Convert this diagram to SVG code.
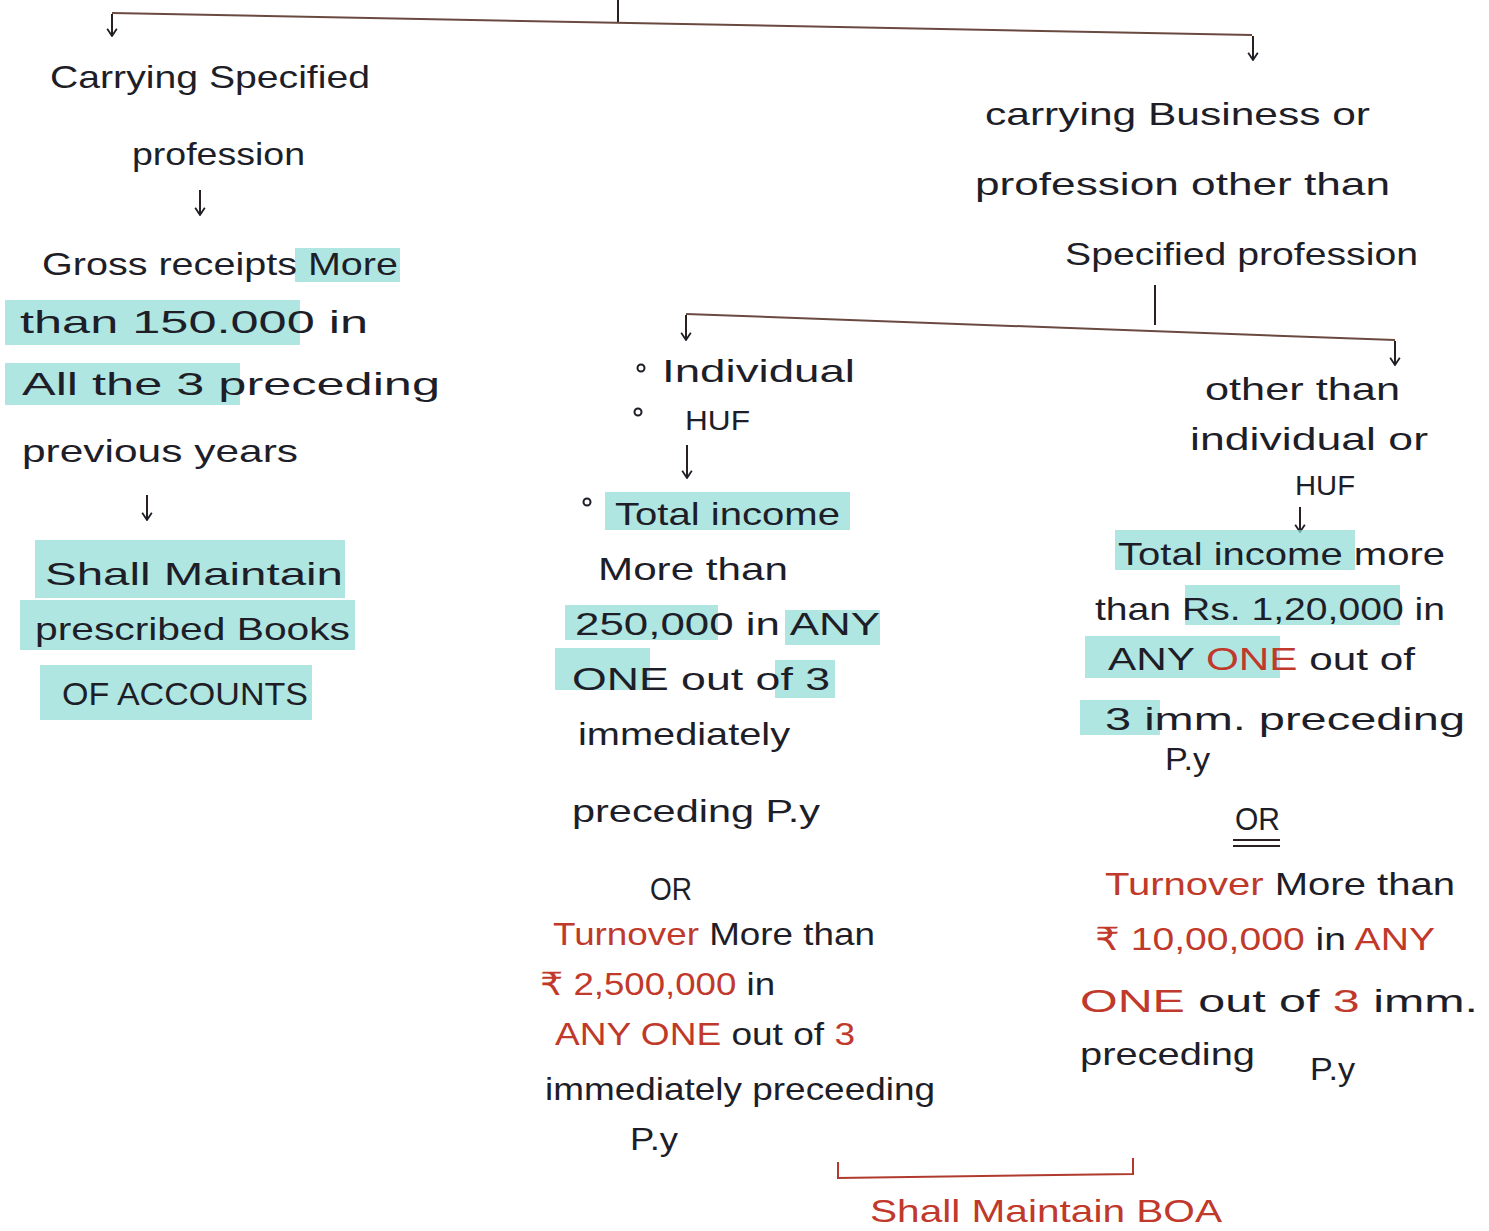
<svg xmlns="http://www.w3.org/2000/svg" width="1489" height="1231" viewBox="0 0 1489 1231">
<defs>
<style>
text{font-family:"Liberation Sans","DejaVu Sans",sans-serif;font-size:32px;fill:#1e1e28}
.r{fill:#c0392b}
.hl{fill:#8fdcd6;opacity:0.7}
.ln{stroke:#2a2020;stroke-width:2;fill:none}
.ln2{stroke:#6a4a40;stroke-width:2;fill:none}
.rl{stroke:#b03a2e;stroke-width:2;fill:none}
</style>
<marker id="ah" viewBox="0 0 10 10" refX="9" refY="5" markerWidth="12" markerHeight="12" orient="auto" markerUnits="userSpaceOnUse">
<path d="M3,1 L9,5 L3,9" fill="none" stroke="#1e1e28" stroke-width="1.5"/>
</marker>
</defs>
<rect width="1489" height="1231" fill="#ffffff"/>

<g id="connectors">
<line class="ln" x1="618" y1="0" x2="618" y2="22"/>
<path class="ln2" d="M112,13 L1252,35"/>
<line class="ln" x1="112" y1="14" x2="112" y2="36" marker-end="url(#ah)"/>
<line class="ln" x1="1253" y1="36" x2="1253" y2="60" marker-end="url(#ah)"/>
<line class="ln" x1="200" y1="190" x2="200" y2="215" marker-end="url(#ah)"/>
<line class="ln" x1="147" y1="495" x2="147" y2="520" marker-end="url(#ah)"/>
<line class="ln" x1="1155" y1="285" x2="1155" y2="325"/>
<path class="ln2" d="M686,314 L1395,340"/>
<line class="ln" x1="686" y1="315" x2="686" y2="340" marker-end="url(#ah)"/>
<line class="ln" x1="1395" y1="341" x2="1395" y2="365" marker-end="url(#ah)"/>
<line class="ln" x1="687" y1="445" x2="687" y2="478" marker-end="url(#ah)"/>
<line class="ln" x1="1300" y1="507" x2="1300" y2="532" marker-end="url(#ah)"/>
<path class="rl" d="M838,1162 L838,1178 L1133,1174 L1133,1158"/>
</g>

<g id="specified">
<text x="50" y="88" textLength="320" lengthAdjust="spacingAndGlyphs">Carrying Specified</text>
<text x="132" y="165" textLength="173" lengthAdjust="spacingAndGlyphs">profession</text>
</g>

<g id="gross-receipts">
<rect class="hl" x="295" y="248" width="105" height="34"/>
<rect class="hl" x="5" y="300" width="295" height="45"/>
<rect class="hl" x="5" y="363" width="235" height="42"/>
<text x="42" y="275" textLength="356" lengthAdjust="spacingAndGlyphs">Gross receipts More</text>
<text x="20" y="333" textLength="348" lengthAdjust="spacingAndGlyphs">than  150.000  in</text>
<text x="22" y="395" textLength="418" lengthAdjust="spacingAndGlyphs">All  the  3  preceding</text>
<text x="22" y="462" textLength="276" lengthAdjust="spacingAndGlyphs">previous years</text>
</g>

<g id="maintain-books">
<rect class="hl" x="35" y="540" width="310" height="58"/>
<rect class="hl" x="20" y="600" width="335" height="50"/>
<rect class="hl" x="40" y="665" width="272" height="55"/>
<text x="45" y="585" textLength="298" lengthAdjust="spacingAndGlyphs">Shall  Maintain</text>
<text x="35" y="640" textLength="315" lengthAdjust="spacingAndGlyphs">prescribed Books</text>
<text x="62" y="705" textLength="246" lengthAdjust="spacingAndGlyphs">OF  ACCOUNTS</text>
</g>

<g id="business">
<text x="985" y="125" textLength="385" lengthAdjust="spacingAndGlyphs">carrying Business or</text>
<text x="975" y="195" textLength="415" lengthAdjust="spacingAndGlyphs">profession other  than</text>
<text x="1065" y="265" textLength="353" lengthAdjust="spacingAndGlyphs">Specified  profession</text>
</g>

<g id="individual-huf">
<circle cx="641" cy="368" r="3.5" fill="none" stroke="#1e1e28" stroke-width="2"/>
<circle cx="638" cy="412" r="3.5" fill="none" stroke="#1e1e28" stroke-width="2"/>
<text x="662" y="382" textLength="193" lengthAdjust="spacingAndGlyphs">Individual</text>
<text x="685" y="430" textLength="65" lengthAdjust="spacingAndGlyphs" style="font-size:28px">HUF</text>
</g>

<g id="individual-criteria">
<rect class="hl" x="605" y="492" width="245" height="38"/>
<rect class="hl" x="565" y="605" width="153" height="35"/>
<rect class="hl" x="785" y="610" width="95" height="35"/>
<rect class="hl" x="555" y="648" width="95" height="42"/>
<rect class="hl" x="775" y="660" width="60" height="38"/>
<circle cx="587" cy="502" r="3.5" fill="none" stroke="#1e1e28" stroke-width="2"/>
<text x="615" y="525" textLength="225" lengthAdjust="spacingAndGlyphs">Total income</text>
<text x="598" y="580" textLength="190" lengthAdjust="spacingAndGlyphs">More  than</text>
<text x="575" y="635" textLength="305" lengthAdjust="spacingAndGlyphs">250,000 in ANY</text>
<text x="572" y="690" textLength="258" lengthAdjust="spacingAndGlyphs">ONE  out of  3</text>
<text x="578" y="745" textLength="212" lengthAdjust="spacingAndGlyphs">immediately</text>
<text x="572" y="822" textLength="248" lengthAdjust="spacingAndGlyphs">preceding  P.y</text>
<text x="650" y="900" textLength="42" lengthAdjust="spacingAndGlyphs">OR</text>
<text x="553" y="945" textLength="322" lengthAdjust="spacingAndGlyphs"><tspan class="r">Turnover</tspan> More than</text>
<text x="540" y="995" textLength="235" lengthAdjust="spacingAndGlyphs"><tspan class="r">₹ 2,500,000</tspan>  in</text>
<text x="555" y="1045" textLength="300" lengthAdjust="spacingAndGlyphs"><tspan class="r">ANY ONE</tspan> out of <tspan class="r">3</tspan></text>
<text x="545" y="1100" textLength="390" lengthAdjust="spacingAndGlyphs">immediately preceeding</text>
<text x="630" y="1150" textLength="48" lengthAdjust="spacingAndGlyphs">P.y</text>
</g>

<g id="other-entities">
<text x="1205" y="400" textLength="195" lengthAdjust="spacingAndGlyphs">other  than</text>
<text x="1190" y="450" textLength="238" lengthAdjust="spacingAndGlyphs">individual or</text>
<text x="1295" y="495" textLength="60" lengthAdjust="spacingAndGlyphs" style="font-size:28px">HUF</text>
</g>

<g id="other-criteria">
<rect class="hl" x="1115" y="530" width="240" height="40"/>
<rect class="hl" x="1185" y="585" width="215" height="40"/>
<rect class="hl" x="1085" y="636" width="195" height="42"/>
<rect class="hl" x="1080" y="700" width="80" height="35"/>
<text x="1118" y="565" textLength="327" lengthAdjust="spacingAndGlyphs">Total income more</text>
<text x="1095" y="620" textLength="350" lengthAdjust="spacingAndGlyphs">than Rs. 1,20,000 in</text>
<text x="1108" y="670" textLength="307" lengthAdjust="spacingAndGlyphs">ANY <tspan class="r">ONE</tspan>  out  of</text>
<text x="1105" y="730" textLength="360" lengthAdjust="spacingAndGlyphs">3  imm.  preceding</text>
<text x="1165" y="770" textLength="45" lengthAdjust="spacingAndGlyphs">P.y</text>
<text x="1235" y="830" textLength="45" lengthAdjust="spacingAndGlyphs">OR</text>
<line class="ln" x1="1233" y1="840" x2="1280" y2="840"/>
<line class="ln" x1="1233" y1="846" x2="1280" y2="846"/>
<text x="1105" y="895" textLength="350" lengthAdjust="spacingAndGlyphs"><tspan class="r">Turnover</tspan> More  than</text>
<text x="1095" y="950" textLength="340" lengthAdjust="spacingAndGlyphs"><tspan class="r">₹ 10,00,000</tspan>  in  <tspan class="r">ANY</tspan></text>
<text x="1080" y="1012" textLength="398" lengthAdjust="spacingAndGlyphs"><tspan class="r">ONE</tspan>  out  of  <tspan class="r">3</tspan>  imm.</text>
<text x="1080" y="1065" textLength="175" lengthAdjust="spacingAndGlyphs">preceding</text>
<text x="1310" y="1080" textLength="45" lengthAdjust="spacingAndGlyphs">P.y</text>
</g>

<g id="shall-maintain-boa">
<text x="870" y="1222" textLength="352" lengthAdjust="spacingAndGlyphs" class="r">Shall  Maintain  BOA</text>
</g>
</svg>
